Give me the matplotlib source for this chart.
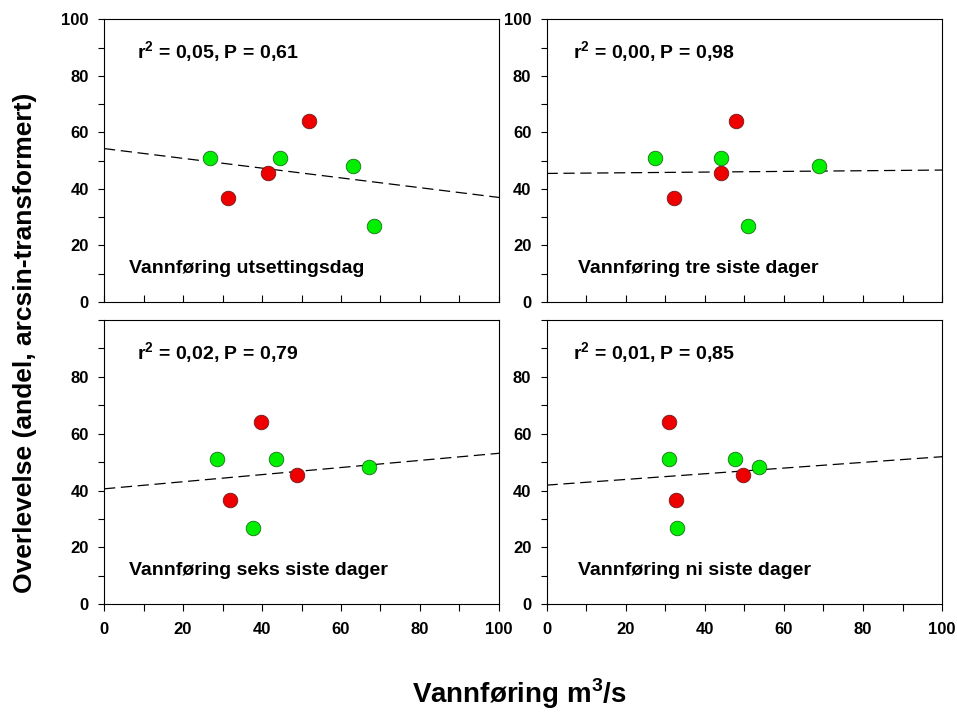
import matplotlib
matplotlib.use("Agg")
import matplotlib.pyplot as plt
from matplotlib.ticker import MultipleLocator

plt.rcParams["font.family"] = ["Liberation Sans", "DejaVu Sans"]
plt.rcParams["font.weight"] = "bold"
plt.rcParams["mathtext.fontset"] = "custom"
plt.rcParams["mathtext.rm"] = "Liberation Sans:bold"
plt.rcParams["mathtext.bf"] = "Liberation Sans:bold"

# overlevelse (same for every panel)
green_y = [51.0, 51.0, 48.3, 27.0]
red_y = [36.7, 45.5, 64.0]

# vannføring per panel
green_x = [
    [26.8, 44.6, 63.1, 68.4],
    [27.3, 44.1, 68.9, 50.9],
    [28.7, 43.5, 67.0, 37.7],
    [30.9, 47.7, 53.8, 33.1],
]
red_x = [
    [31.5, 41.6, 51.9],
    [32.2, 44.2, 47.9],
    [31.9, 48.8, 39.7],
    [32.7, 49.6, 31.0],
]

# regresjonslinjer
intercepts = [54.3, 45.5, 40.6, 41.9]
slopes = [-0.173, 0.012, 0.125, 0.100]

stats_text = [
    "r$^{2}$ = 0,05, P = 0,61",
    "r$^{2}$ = 0,00, P = 0,98",
    "r$^{2}$ = 0,02, P = 0,79",
    "r$^{2}$ = 0,01, P = 0,85",
]
panel_titles = [
    "Vannføring utsettingsdag",
    "Vannføring tre siste dager",
    "Vannføring seks siste dager",
    "Vannføring ni siste dager",
]

fig = plt.figure(figsize=(9.57, 7.18), dpi=100)

positions = [
    [0.1087, 0.5794, 0.4127, 0.3935],
    [0.5711, 0.5794, 0.4133, 0.3935],
    [0.1087, 0.1584, 0.4127, 0.3960],
    [0.5711, 0.1584, 0.4133, 0.3960],
]
stats_x = [8.3, 6.7, 8.3, 6.7]
title_x = [6.2, 7.9, 6.2, 7.9]

for i, pos in enumerate(positions):
    ax = fig.add_axes(pos)
    top = i < 2

    x_line = [0, 100]
    y_line = [intercepts[i] + slopes[i] * x for x in x_line]
    ax.plot(x_line, y_line, color="black", lw=0.9, dashes=(9, 4.5), zorder=2)

    ax.scatter(green_x[i], green_y, s=110, color="#00f000", edgecolors="#1a6e1a",
               linewidths=0.6, zorder=3)
    ax.scatter(red_x[i], red_y, s=110, color="#ee0000", edgecolors="#6e1a1a",
               linewidths=0.6, zorder=3)

    ax.text(stats_x[i], 86, stats_text[i], fontsize=14, fontweight="bold", va="baseline")
    ax.text(title_x[i], 10.3, panel_titles[i], fontsize=14, fontweight="bold", va="baseline")

    ax.set_xlim(0, 100)
    ax.set_ylim(0, 100)
    ax.xaxis.set_major_locator(MultipleLocator(20))
    ax.xaxis.set_minor_locator(MultipleLocator(10))
    ax.yaxis.set_major_locator(MultipleLocator(20))
    ax.yaxis.set_minor_locator(MultipleLocator(10))

    ax.tick_params(axis="y", which="both", direction="out", length=4, width=0.8,
                   labelsize=12, pad=7)
    if top:
        ax.tick_params(axis="x", which="both", direction="in", length=5, width=0.8,
                       labelbottom=False)
    else:
        ax.tick_params(axis="x", which="both", direction="out", length=5, width=0.8,
                       labelsize=12, pad=8)
        ax.set_yticks([0, 20, 40, 60, 80])
        ax.set_ylim(0, 100)
    for lab in ax.get_xticklabels() + ax.get_yticklabels():
        lab.set_fontweight("bold")
    for sp in ax.spines.values():
        sp.set_linewidth(0.8)

fig.text(0.026, 0.522, "Overlevelse (andel, arcsin-transformert)", rotation=90,
         fontsize=19, fontweight="bold", ha="center", va="center")
fig.text(0.543, 0.021, "Vannføring m$^{3}$/s", fontsize=20, fontweight="bold",
         ha="center", va="baseline")

fig.savefig("out.png", dpi=100)
